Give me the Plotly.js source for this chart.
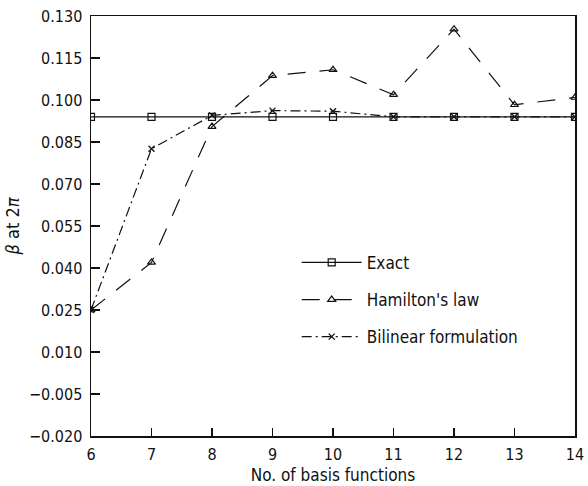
<!DOCTYPE html>
<html>
<head>
<meta charset="utf-8">
<script src="https://cdn.plot.ly/plotly-3.0.1.min.js"></script>
<style>html,body{margin:0;padding:0;background:#fff;}#chart{width:588px;height:486px;}</style>
</head>
<body>
<div id="chart"></div>
<script>
const basisFunctions = [6, 7, 8, 9, 10, 11, 12, 13, 14];
const exactValues = [0.094, 0.094, 0.094, 0.094, 0.094, 0.094, 0.094, 0.094, 0.094];
const hamiltonValues = [0.025, 0.042, 0.0905, 0.1087, 0.1108, 0.1019, 0.1253, 0.0983, 0.1009];
const bilinearValues = [0.025, 0.0826, 0.0945, 0.0962, 0.0960, 0.094, 0.094, 0.094, 0.094];
const yTickVals = [-0.020, -0.005, 0.010, 0.025, 0.040, 0.055, 0.070, 0.085, 0.100, 0.115, 0.130];
const xTickVals = [6, 7, 8, 9, 10, 11, 12, 13, 14];

const FONT = "DejaVu Sans Condensed, Liberation Sans Narrow, sans-serif";

const traces = [
  {x: basisFunctions, y: exactValues, name: "Exact", mode: "lines+markers", legendgroup: "a",
   line: {color: "#111", width: 1.2, dash: "solid"},
   marker: {symbol: "square-open", size: 7, color: "#111", line: {width: 1.2}}},
  {x: basisFunctions, y: hamiltonValues, name: "Hamilton's law", mode: "lines+markers", legendgroup: "b",
   line: {color: "#111", width: 1.2, dash: "18px,14px"},
   marker: {symbol: "triangle-up-open", size: 7, color: "#111", line: {width: 1.2}}},
  {x: basisFunctions, y: bilinearValues, name: "Bilinear formulation", mode: "lines+markers", legendgroup: "c",
   line: {color: "#111", width: 1.2, dash: "10px,4px,2px,4px"},
   marker: {symbol: "x-thin-open", size: 6, color: "#111", line: {width: 1.3, color: "#111"}}}
];

const layout = {
  width: 588, height: 486,
  margin: {l: 91, r: 13, t: 16, b: 50},
  paper_bgcolor: "#fff", plot_bgcolor: "#fff",
  font: {family: FONT, size: 17, color: "#111"},
  showlegend: true,
  legend: {x: 0.425, y: 0.455, xanchor: "left", yanchor: "top", bgcolor: "rgba(0,0,0,0)",
           font: {family: FONT, size: 17, color: "#111"}, traceorder: "grouped",
           tracegroupgap: 12, itemwidth: 60},
  xaxis: {range: [6, 14], tickvals: xTickVals, ticktext: xTickVals.map(String),
          ticks: "inside", ticklen: 8, tickwidth: 1.2, tickcolor: "#111",
          showgrid: false, zeroline: false, showline: true, linecolor: "#111", linewidth: 1.5, mirror: true,
          tickfont: {family: FONT, size: 16}, ticklabelstandoff: 3,
          title: {text: "No. of basis functions", font: {family: FONT, size: 17}, standoff: 6}},
  yaxis: {range: [-0.020, 0.130], tickvals: yTickVals,
          ticktext: yTickVals.map(v => (v < 0 ? "\u2212" : "") + Math.abs(v).toFixed(3)),
          ticks: "inside", ticklen: 9, tickwidth: 1.2, tickcolor: "#111",
          showgrid: false, zeroline: false, showline: true, linecolor: "#111", linewidth: 1.5, mirror: true,
          tickfont: {family: FONT, size: 16}, ticklabelstandoff: 4,
          title: {text: "<i>β</i> at 2<i>π</i>", font: {family: FONT, size: 18}, standoff: 4}}
};

Plotly.newPlot("chart", traces, layout, {displayModeBar: false, staticPlot: true});
</script>
</body>
</html>
